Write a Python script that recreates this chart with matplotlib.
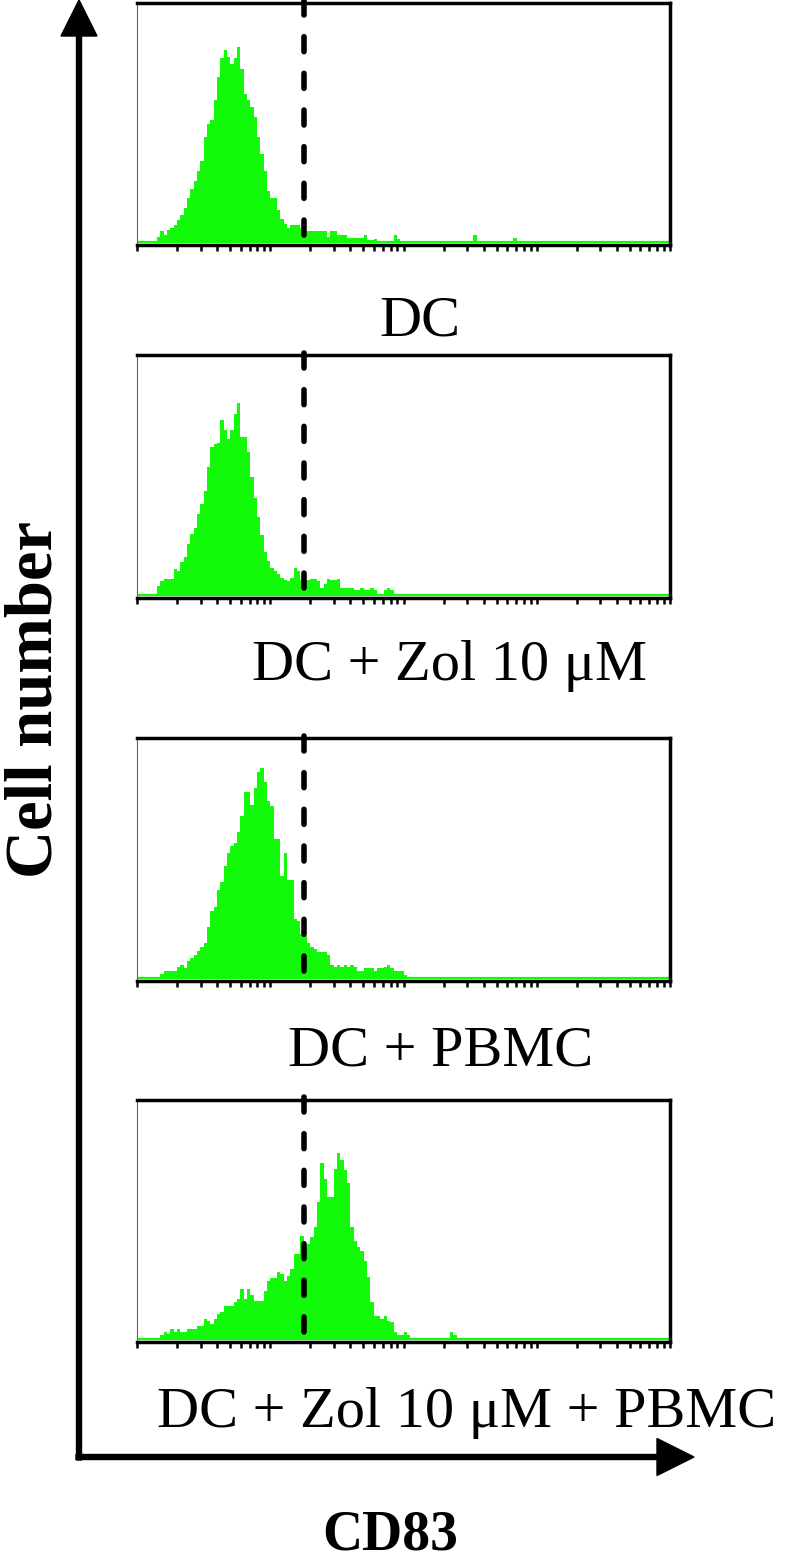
import numpy as np
import matplotlib
matplotlib.use('Agg')
import matplotlib.pyplot as plt
from matplotlib.patches import FancyArrow

# --- data: CD83 histograms, 160 log channels over 4 decades (40 per decade) ---
n_channels = 160
per_decade = 40
gate_value = 18  # dashed marker

labels = ['DC', 'DC + Zol 10 μM', 'DC + PBMC', 'DC + Zol 10 μM + PBMC']
first_channel = [6, 6, 7, 7]

dc_counts = [5, 11, 7, 12, 14, 17, 22, 27, 34, 44, 53, 61, 71, 81, 105, 118, 122, 142, 165, 184,
             192, 185, 178, 184, 195, 173, 148, 142, 135, 125, 105, 88, 71, 51, 44, 44, 32, 23, 18, 14,
             17, 17, 17, 14, 10, 11, 11, 11, 11, 11, 11, 5, 11, 11, 7, 7, 7, 4, 4, 4,
             4, 4, 7, 2, 2, 3, 0, 0, 0, 0, 0, 7, 3, 0] + [0] * 21 + [7] + [0] * 11 + [4]
dc_zol_counts = [9, 14, 16, 16, 16, 26, 24, 33, 38, 51, 61, 67, 81, 91, 104, 128, 148, 151, 152, 175,
                 165, 156, 165, 181, 192, 158, 158, 143, 118, 97, 78, 60, 43, 34, 27, 24, 21, 17, 15, 14,
                 17, 27, 24, 15, 14, 15, 16, 16, 14, 7, 11, 16, 15, 15, 16, 7, 7, 7, 7, 5,
                 5, 7, 5, 5, 7, 5, 1, 1, 5, 7, 5, 1]
dc_pbmc_counts = [4, 7, 7, 7, 7, 11, 13, 10, 17, 20, 23, 27, 31, 35, 51, 67, 71, 88, 96, 112,
                  125, 132, 135, 146, 162, 186, 186, 173, 190, 206, 210, 196, 177, 172, 139, 139, 102, 125, 98, 98,
                  59, 57, 44, 42, 35, 31, 29, 26, 26, 26, 23, 13, 11, 13, 11, 13, 11, 13, 11, 7,
                  7, 10, 10, 10, 7, 10, 10, 11, 13, 10, 7, 7, 7, 3]
dc_zol_pbmc_counts = [4, 7, 5, 10, 7, 10, 7, 7, 10, 10, 10, 13, 13, 20, 18, 15, 20, 25, 27, 33,
                      33, 33, 37, 40, 50, 40, 50, 44, 38, 38, 38, 48, 58, 61, 61, 67, 65, 58, 63, 70,
                      85, 85, 103, 92, 95, 102, 112, 137, 176, 160, 142, 142, 170, 186, 179, 169, 156, 112, 98, 92,
                      88, 78, 62, 37, 23, 23, 20, 23, 18, 17, 7, 4, 4, 7, 4, 1] + [0] * 11 + [7, 4]

all_counts = [dc_counts, dc_zol_counts, dc_pbmc_counts, dc_zol_pbmc_counts]

GREEN = '#12FA0A'
W, H = 791, 1564

# panel boxes in pixels: (top, bottom), x from 137 to 670
boxes = [(3, 245), (355, 598), (738, 981), (1100, 1342)]
label_pos = [(420, 335), (450, 680), (441, 1065), (467, 1427)]
x_left, x_right = 137, 670

plt.rcParams['font.family'] = ['Liberation Serif', 'DejaVu Serif']
fig = plt.figure(figsize=(W / 100, H / 100), dpi=100)

# overlay in pixel coords for arrows and text
ov = fig.add_axes([0, 0, 1, 1])
ov.set_xlim(0, W); ov.set_ylim(H, 0); ov.axis('off')

edges = 10 ** (np.arange(n_channels + 1) / per_decade)

for k, counts in enumerate(all_counts):
    top, bot = boxes[k]
    ax = fig.add_axes([x_left / W, 1 - bot / H, (x_right - x_left) / W, (bot - top) / H])
    full = np.zeros(n_channels)
    full[first_channel[k]:first_channel[k] + len(counts)] = counts
    ax.stairs(full, edges, fill=True, color=GREEN, lw=0)
    ax.axhline(0, color=GREEN, lw=1.6)
    ax.set_xscale('log')
    ax.set_xlim(1, 10 ** 4)
    ax.set_ylim(-3, bot - top - 3)
    ax.axvline(gate_value, ymin=0.04, ymax=1.015, color='black', lw=4,
               dashes=(2.7, 3.9), dash_capstyle='round', clip_on=False, zorder=5)
    for s in ['top', 'right', 'bottom']:
        ax.spines[s].set_linewidth(2.5)
    ax.spines['left'].set_linewidth(0.8)
    ax.spines['left'].set_color('#666666')
    ax.set_yticks([])
    ax.tick_params(axis='x', which='both', direction='out', length=4.5, width=1.8,
                   labelbottom=False, color='black')
    lx, ly = label_pos[k]
    ov.text(lx, ly, labels[k], fontsize=42, ha='center', va='baseline')

# big axis arrows
ov.add_patch(FancyArrow(79, 1460, 0, -1460, width=5, head_width=36, head_length=36,
                        length_includes_head=True, color='black'))
ov.add_patch(FancyArrow(76, 1457, 618, 0, width=5, head_width=37, head_length=37,
                        length_includes_head=True, color='black'))

ov.text(35, 700, 'Cell number', fontsize=48, fontweight='bold', rotation=90,
        ha='center', va='center')
ov.text(390, 1550, 'CD83', fontsize=40, fontweight='bold', ha='center', va='baseline')

fig.savefig('out.png', dpi=100)
